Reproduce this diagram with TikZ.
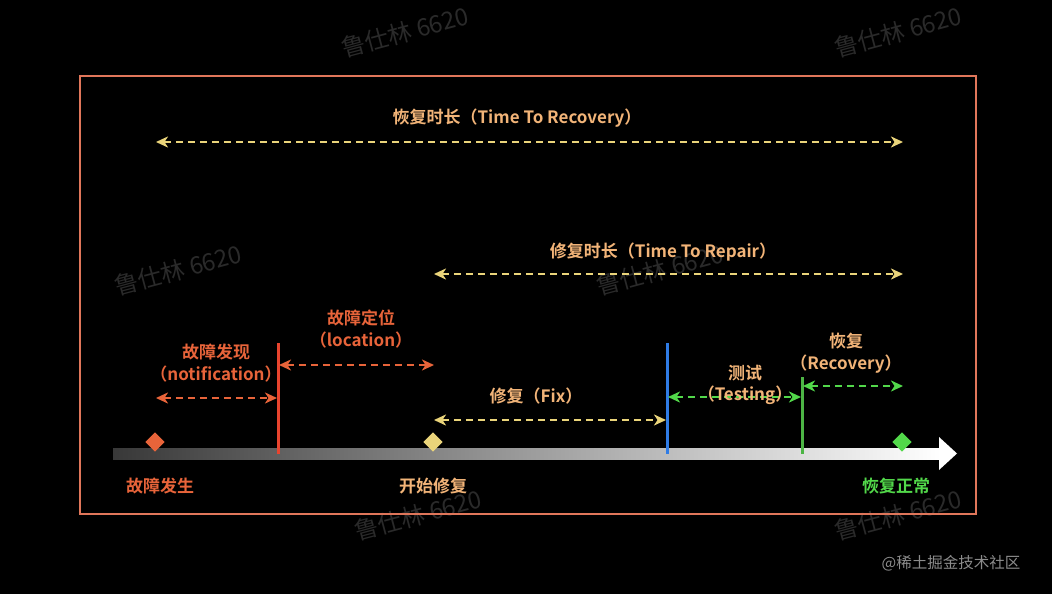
\documentclass[tikz,border=0pt]{standalone}
\usepackage{fontspec}
\setmainfont{Noto Sans CJK SC}[BoldFont={Noto Sans CJK SC Bold}]
\usetikzlibrary{arrows.meta,shapes.geometric}
\definecolor{frameC}{HTML}{E0765A}
\definecolor{peach}{HTML}{F2B478}
\definecolor{yel}{HTML}{EAD47A}
\definecolor{redC}{HTML}{E8442E}
\definecolor{orC}{HTML}{E8643A}
\definecolor{grC}{HTML}{52D84A}
\definecolor{grLine}{HTML}{4DB545}
\definecolor{blueC}{HTML}{2F7CE6}
\definecolor{wm}{HTML}{2A2A2A}
\tikzset{
  lbl/.style={font=\fontsize{17}{19.5}\selectfont\bfseries, inner sep=0pt, align=center},
  span/.style={dashed, dash pattern=on 7pt off 5pt, line width=2pt, {Stealth[length=12pt,width=11pt,inset=3.5pt]}-{Stealth[length=12pt,width=11pt,inset=3.5pt]}},
  dia/.style={rectangle, rotate=45, inner sep=0pt, minimum size=13.5pt},
  vbar/.style={line width=3pt},
  wmk/.style={text=wm, rotate=15, font=\fontsize{24}{26}\selectfont, inner sep=0pt}
}
\begin{document}
\begin{tikzpicture}[x=1pt,y=-1pt]
\fill[black] (0,0) rectangle (1052,594);
\useasboundingbox (0,0) rectangle (1052,594);
% watermarks
\node[wmk] (w1) at (405,32) {鲁仕林 6620};
\node[wmk] (w2) at (898,32) {鲁仕林 6620};
\node[wmk] (w3) at (178,270) {鲁仕林 6620};
\node[wmk] (w4) at (660,270) {鲁仕林 6620};
\node[wmk] (w5) at (418,515) {鲁仕林 6620};
\node[wmk] (w6) at (898,515) {鲁仕林 6620};
% frame
\draw[frameC, line width=1.8pt] (80,76) rectangle (976,514);
% timeline
\shade[left color=black!78!white, right color=white] (113,448) rectangle (941,459);
\fill[white] (939,437) -- (957,453.5) -- (939,470) -- cycle;
% markers
\node[dia, fill=orC] (d1) at (155,442) {};
\node[dia, fill=yel] (d2) at (433,442) {};
\node[dia, fill=grC] (d3) at (902,442) {};
\draw[vbar, redC] (278,343) -- (278,454);
\draw[vbar, blueC] (667,343) -- (667,454);
\draw[vbar, grLine] (802,377) -- (802,454);
% coordinates for spans
\coordinate (r1) at (156,142); \coordinate (r2) at (903,142);
\coordinate (p1) at (434,274); \coordinate (p2) at (903,274);
\coordinate (n1) at (156,398); \coordinate (n2) at (277,398);
\coordinate (l1) at (279,365); \coordinate (l2) at (434,365);
\coordinate (f1) at (434,420); \coordinate (f2) at (666,420);
\coordinate (t1) at (668,397); \coordinate (t2) at (801,397);
\coordinate (v1) at (803,386); \coordinate (v2) at (903,386);
\draw[span, yel] (r1) -- (r2);
\draw[span, yel] (p1) -- (p2);
\draw[span, orC] (n1) -- (n2);
\draw[span, orC] (l1) -- (l2);
\draw[span, yel] (f1) -- (f2);
\draw[span, grC] (t1) -- (t2);
\draw[span, grC] (v1) -- (v2);
% labels
\node[lbl, text=peach] (tr) at (517,118) {恢复时长（Time To Recovery）};
\node[lbl, text=peach] (tp) at (663,252) {修复时长（Time To Repair）};
\node[lbl, text=orC] (ln) at (216,363) {故障发现\\[2pt]（notification）};
\node[lbl, text=orC] (ll) at (361,329) {故障定位\\[2pt]（location）};
\node[lbl, text=peach] (lf) at (536,396) {修复（Fix）};
\node[lbl, text=peach] (lt) at (745,385) {测试\\[2pt]（Testing）};
\node[lbl, text=peach] (lv) at (846,353) {恢复\\[2pt]（Recovery）};
\node[lbl, text=orC] (e1) at (160,486) {故障发生};
\node[lbl, text=peach] (e2) at (433,486) {开始修复};
\node[lbl, text=grC] (e3) at (896,486) {恢复正常};
\node[text=black!45, font=\fontsize{15.5}{17}\selectfont, inner sep=0pt] (src) at (951,563) {@稀土掘金技术社区};
\end{tikzpicture}
\end{document}
